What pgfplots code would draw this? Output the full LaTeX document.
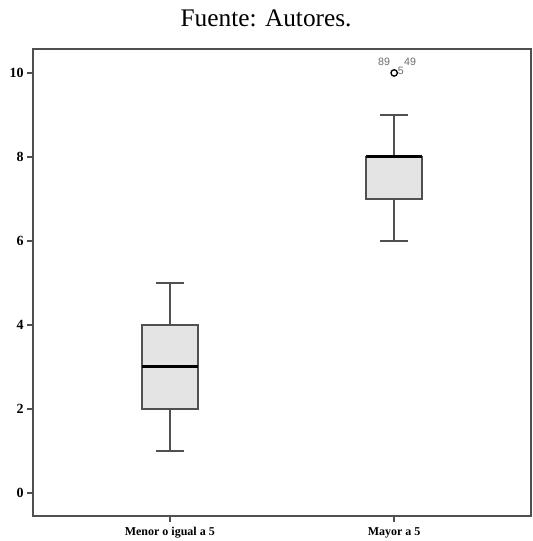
\documentclass[border=0pt]{standalone}
\usepackage{fontspec}
\setmainfont{Liberation Serif}
\newfontfamily\sansf{Liberation Sans}
\usepackage{pgfplots}
\usepgfplotslibrary{statistics}
\pgfplotsset{compat=1.18}
\definecolor{boxfill}{HTML}{E4E4E4}
\definecolor{edge}{HTML}{505050}

\begin{document}
\begin{tikzpicture}
\begin{axis}[
    name=main,
    scale only axis,
    width=373.5pt,
    height=350.25pt,
    xmin=0.39, xmax=2.61,
    ymin=-0.55, ymax=10.57,
    xtick={1,2},
    xticklabels={Menor o igual a 5, Mayor a 5},
    ytick={0,2,4,6,8,10},
    tick align=outside,
    tick pos=left,
    major tick length=4.5pt,
    axis line style={edge, line width=1.3pt},
    every tick/.style={edge, line width=1.1pt},
    /pgf/number format/assume math mode=true,
    xticklabel style={font=\bfseries\fontsize{9}{10}\selectfont, inner sep=1pt, yshift=-3pt},
    yticklabel style={font=\bfseries\fontsize{10.5}{12}\selectfont, xshift=1pt},
    clip=false,
    boxplot/draw direction=y,
    boxplot/box extend=0.25,
    boxplot/whisker extend=0.125,
    boxplot/every box/.style={draw=edge, fill=boxfill, line width=1.4pt},
    boxplot/every whisker/.style={draw=edge, line width=1.4pt},
    boxplot/every median/.style={draw=black, line width=2.2pt},
]
\addplot[edge, line width=1.4pt, boxplot prepared={
    lower whisker=1, lower quartile=2, median=3,
    upper quartile=4, upper whisker=5, draw position=1}]
    coordinates {};
\addplot[edge, line width=1.4pt, mark=o, mark size=2.4pt,
    mark options={black, line width=1pt},
    boxplot prepared={
    lower whisker=6, lower quartile=7, median=8,
    upper quartile=8, upper whisker=9, draw position=2}]
    coordinates {(0,10)};
\node[font=\sansf\fontsize{8}{9}\selectfont, text=gray!85!black] at (axis cs:2,10) [xshift=-7.5pt, yshift=8.5pt] {89};
\node[font=\sansf\fontsize{8}{9}\selectfont, text=gray!85!black] at (axis cs:2,10) [xshift=5pt, yshift=1.5pt] {5};
\node[font=\sansf\fontsize{8}{9}\selectfont, text=gray!85!black] at (axis cs:2,10) [xshift=12pt, yshift=8.5pt] {49};
\node[font=\fontsize{19}{22}\selectfont] at (rel axis cs:0.468,1) [yshift=23pt] {Fuente: Autores.};
\end{axis}
% page frame matching the reference margins
\path ([xshift=-24.75pt, yshift=-18.75pt]main.south west)
    rectangle ([xshift=0.75pt, yshift=36.75pt]main.north east);
\end{tikzpicture}
\end{document}
